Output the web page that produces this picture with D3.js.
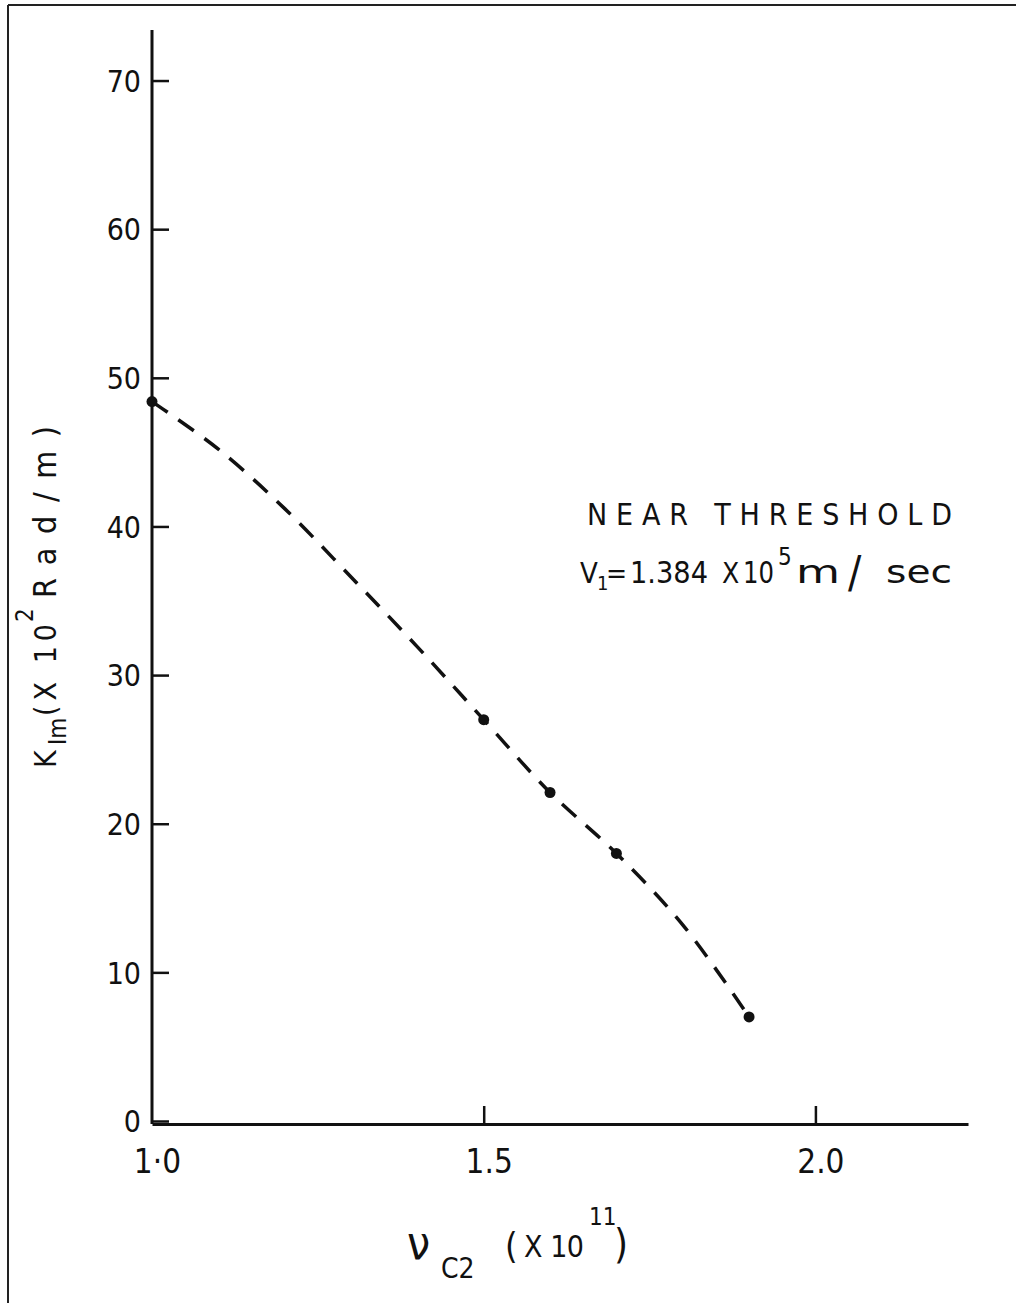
<!DOCTYPE html>
<html>
<head>
<meta charset="utf-8">
<script src="https://cdn.jsdelivr.net/npm/d3@7"></script>
<style>
  html, body { margin: 0; padding: 0; background: #fff; }
  svg { display: block; }
  .hand { font-family: "DejaVu Sans Condensed", "Liberation Sans Narrow", "DejaVu Sans", sans-serif; fill: #111; }
  .axis path, .axis line { stroke: #111; }
  .axis text { font-family: "DejaVu Sans Condensed", "Liberation Sans Narrow", "DejaVu Sans", sans-serif; fill: #111; }
</style>
</head>
<body>
<div id="chart"></div>
<script>
// measured points (nu_C2 in units of 1e11, K_Im in units of 1e2 rad/m)
const nuC2 = [1.0, 1.5, 1.6, 1.7, 1.9];
const kIm = [48.4, 27.0, 22.1, 18.0, 7.0];

// hand-drawn dashed curve
const curveNu = [1.0, 1.1, 1.2, 1.3, 1.4, 1.5, 1.6, 1.7, 1.8, 1.9];
const curveK = [48.4, 45.2, 41.2, 36.6, 31.9, 27.0, 22.1, 18.0, 13.2, 7.0];

const xTicks = [1.0, 1.5, 2.0];
const xTickLabels = ['1·0', '1.5', '2.0'];
const yTicks = [0, 10, 20, 30, 40, 50, 60, 70];

const W = 1016, H = 1303;

const svg = d3.select('#chart').append('svg')
  .attr('width', W)
  .attr('height', H);

// scanned page frame (top and left edges only)
svg.append('line').attr('x1', 8).attr('y1', 5).attr('x2', W).attr('y2', 5)
  .attr('stroke', '#222').attr('stroke-width', 2);
svg.append('line').attr('x1', 8).attr('y1', 5).attr('x2', 8).attr('y2', H)
  .attr('stroke', '#222').attr('stroke-width', 2);

const x = d3.scaleLinear().domain([1.0, 2.23]).range([152, 968]);
const y = d3.scaleLinear().domain([0, 73.4]).range([1121, 30]);
const axisY = y(0) + 3;

// y axis: ticks point inwards
const gy = svg.append('g').attr('class', 'axis')
  .attr('transform', `translate(${x(1.0)},0)`)
  .call(d3.axisLeft(y)
    .tickValues(yTicks)
    .tickFormat(d3.format('d'))
    .tickSizeInner(-17)
    .tickSizeOuter(0)
    .tickPadding(11));
gy.select('.domain').attr('stroke-width', 3)
  .attr('d', `M0,${y.range()[1]}V${axisY}`);
gy.selectAll('.tick line').attr('stroke-width', 2.5);
gy.selectAll('.tick text').attr('font-size', 30).attr('dy', '0.36em');

// x axis: ticks point upwards
const gx = svg.append('g').attr('class', 'axis')
  .attr('transform', `translate(0,${axisY})`)
  .call(d3.axisBottom(x)
    .tickValues(xTicks)
    .tickFormat((d, i) => xTickLabels[i])
    .tickSizeInner(-18)
    .tickSizeOuter(0)
    .tickPadding(26));
gx.select('.domain').attr('stroke-width', 3);
gx.selectAll('.tick line').attr('stroke-width', 2.5);
gx.selectAll('.tick').filter(d => d === 1.0).select('line').remove();
gx.selectAll('.tick text').attr('font-size', 33).attr('dx', '0.15em');

// dashed curve
const line = d3.line()
  .x(i => x(curveNu[i]))
  .y(i => y(curveK[i]))
  .curve(d3.curveCatmullRom.alpha(0.5));

svg.append('path')
  .attr('d', line(d3.range(curveNu.length)))
  .attr('fill', 'none')
  .attr('stroke', '#111')
  .attr('stroke-width', 3.5)
  .attr('stroke-dasharray', '19,13');

// measured points
svg.append('g').selectAll('circle')
  .data(d3.range(nuC2.length))
  .join('circle')
  .attr('cx', i => x(nuC2[i]))
  .attr('cy', i => y(kIm[i]))
  .attr('r', 5.5)
  .attr('fill', '#111');

// annotation
const note = svg.append('g').attr('class', 'hand');
note.append('text').attr('x', 587).attr('y', 525)
  .attr('font-size', 30).attr('textLength', 365).attr('lengthAdjust', 'spacing')
  .text('NEAR THRESHOLD');

const noteParts = [
  { t: 'V', x: 580, y: 583, fs: 29 },
  { t: '1', x: 597, y: 590, fs: 20 },
  { t: '=', x: 606, y: 583, fs: 28 },
  { t: '1.384', x: 630, y: 583, fs: 30, len: 78 },
  { t: 'X', x: 722, y: 583, fs: 28 },
  { t: '10', x: 743, y: 583, fs: 30, len: 31 },
  { t: '5', x: 778, y: 565, fs: 24 },
  { t: 'm', x: 796, y: 583, fs: 32, len: 44 },
  { t: '/', x: 848, y: 588, fs: 44 },
  { t: 'sec', x: 886, y: 583, fs: 32, len: 66 }
];
noteParts.forEach(p => {
  const t = note.append('text').attr('x', p.x).attr('y', p.y)
    .attr('font-size', p.fs).text(p.t);
  if (p.len) t.attr('textLength', p.len).attr('lengthAdjust', 'spacingAndGlyphs');
});

// y axis title, rotated; local x = -pageY, local y = pageX
const yTitle = svg.append('g').attr('class', 'hand').attr('transform', 'rotate(-90)');
const yParts = [
  { t: 'K', x: -768, y: 56, fs: 30 },
  { t: 'Im', x: -745, y: 66, fs: 24 },
  { t: '(X 10', x: -716, y: 56, fs: 30, len: 92 },
  { t: '2', x: -622, y: 33, fs: 24 },
  { t: 'Rad/m)', x: -598, y: 56, fs: 32, len: 172 }
];
yParts.forEach(p => {
  const t = yTitle.append('text').attr('x', p.x).attr('y', p.y)
    .attr('font-size', p.fs).text(p.t);
  if (p.len) t.attr('textLength', p.len).attr('lengthAdjust', 'spacing');
});

// x axis title
const xTitle = svg.append('g').attr('class', 'hand');
const xParts = [
  { t: 'ν', x: 407, y: 1259, fs: 46 },
  { t: 'C2', x: 441, y: 1278, fs: 28 },
  { t: '(', x: 505, y: 1258, fs: 36 },
  { t: 'X 10', x: 524, y: 1257, fs: 30, len: 60 },
  { t: '11', x: 589, y: 1225, fs: 24 },
  { t: ')', x: 614, y: 1258, fs: 40 }
];
xParts.forEach(p => {
  const t = xTitle.append('text').attr('x', p.x).attr('y', p.y)
    .attr('font-size', p.fs).text(p.t);
  if (p.len) t.attr('textLength', p.len).attr('lengthAdjust', 'spacing');
});
</script>
</body>
</html>
